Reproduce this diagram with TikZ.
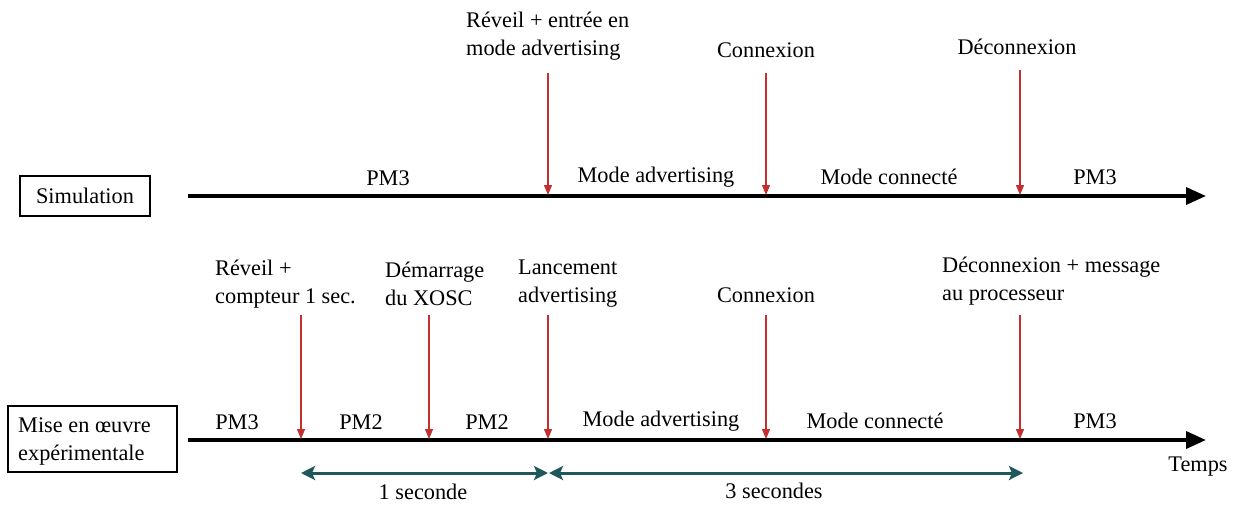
\documentclass[tikz,border=0pt]{standalone}
\usepackage{fontspec}
\setmainfont{Liberation Serif}
\usetikzlibrary{arrows.meta}
\definecolor{evred}{RGB}{196,48,48}
\definecolor{durteal}{RGB}{30,88,90}
\tikzset{
  lbl/.style={inner sep=0pt, font=\fontsize{22.3}{28}\selectfont},
  lblL/.style={lbl, align=left, anchor=west},
  lblC/.style={lbl, align=center},
  axis/.style={line width=3.6pt, -{Triangle[length=20pt,width=17pt]}},
  event/.style={draw=evred, line width=1.3pt, -{Triangle[length=10pt,width=8pt]}},
  dur/.style={draw=durteal, line width=3pt, {Stealth[length=14pt,width=14pt,inset=3pt]}-{Stealth[length=14pt,width=14pt,inset=3pt]}},
  rowbox/.style={draw, line width=1.2pt, inner sep=0pt}
}
\begin{document}
\begin{tikzpicture}[x=1pt,y=-1pt]
\useasboundingbox (0,0) rectangle (1236,504);
\fill[white] (0,0) rectangle (1236,504);

% ---- row boxes
\node[rowbox, minimum width=130pt, minimum height=40pt] (simbox) at (85,196) {};
\node[lblC] (simtxt) at (85,196) {Simulation};
\node[rowbox, minimum width=169pt, minimum height=66pt] (expbox) at (92.5,439) {};
\node[lblL] (exptxt) at (18,441) {Mise en œuvre\\expérimentale};

% ---- axes
\coordinate (a1s) at (188,196);
\coordinate (a1e) at (1206,196);
\coordinate (a2s) at (188,440);
\coordinate (a2e) at (1206,440);
\draw[axis] (a1s) -- (a1e);
\draw[axis] (a2s) -- (a2e);

% ---- top events
\node[lblL] (t1l) at (466,36) {Réveil + entrée en\\mode advertising};
\node[lblC] (t2l) at (766,50) {Connexion};
\node[lblC] (t3l) at (1017,47) {Déconnexion};
\coordinate (t1a) at (548,73);  \coordinate (t1b) at (548,195);
\coordinate (t2a) at (766,73);  \coordinate (t2b) at (766,195);
\coordinate (t3a) at (1020,70); \coordinate (t3b) at (1020,195);
\draw[event] (t1a) -- (t1b);
\draw[event] (t2a) -- (t2b);
\draw[event] (t3a) -- (t3b);

% ---- top segment labels
\node[lblC] (s1) at (388,178) {PM3};
\node[lblC] (s2) at (656,177) {Mode advertising};
\node[lblC] (s3) at (889,177) {Mode connecté};
\node[lblC] (s4) at (1095,177) {PM3};

% ---- bottom events
\node[lblL] (b1l) at (215,284) {Réveil +\\compteur 1 sec.};
\node[lblL] (b2l) at (385,284) {Démarrage\\du XOSC};
\node[lblL] (b3l) at (518,284) {Lancement\\advertising};
\node[lblC] (b4l) at (766,295) {Connexion};
\node[lblL] (b5l) at (942,281) {Déconnexion + message\\au processeur};
\coordinate (b1a) at (301,315);  \coordinate (b1b) at (301,439);
\coordinate (b2a) at (429,315);  \coordinate (b2b) at (429,439);
\coordinate (b3a) at (548,315);  \coordinate (b3b) at (548,439);
\coordinate (b4a) at (766,315);  \coordinate (b4b) at (766,439);
\coordinate (b5a) at (1020,315); \coordinate (b5b) at (1020,439);
\draw[event] (b1a) -- (b1b);
\draw[event] (b2a) -- (b2b);
\draw[event] (b3a) -- (b3b);
\draw[event] (b4a) -- (b4b);
\draw[event] (b5a) -- (b5b);

% ---- bottom segment labels
\node[lblC] (p1) at (237,422) {PM3};
\node[lblC] (p2) at (361,422) {PM2};
\node[lblC] (p3) at (487,422) {PM2};
\node[lblC] (p4) at (661,421) {Mode advertising};
\node[lblC] (p5) at (875,421) {Mode connecté};
\node[lblC] (p6) at (1095,421) {PM3};
\node[lblC] (temps) at (1198,467) {Temps};

% ---- durations
\coordinate (d1a) at (301,473); \coordinate (d1b) at (548,473);
\coordinate (d2a) at (549,473); \coordinate (d2b) at (1023,473);
\draw[dur] (d1a) -- (d1b);
\draw[dur] (d2a) -- (d2b);
\node[lblC] (d1l) at (423,492) {1 seconde};
\node[lblC] (d2l) at (774,491) {3 secondes};
\end{tikzpicture}
\end{document}
